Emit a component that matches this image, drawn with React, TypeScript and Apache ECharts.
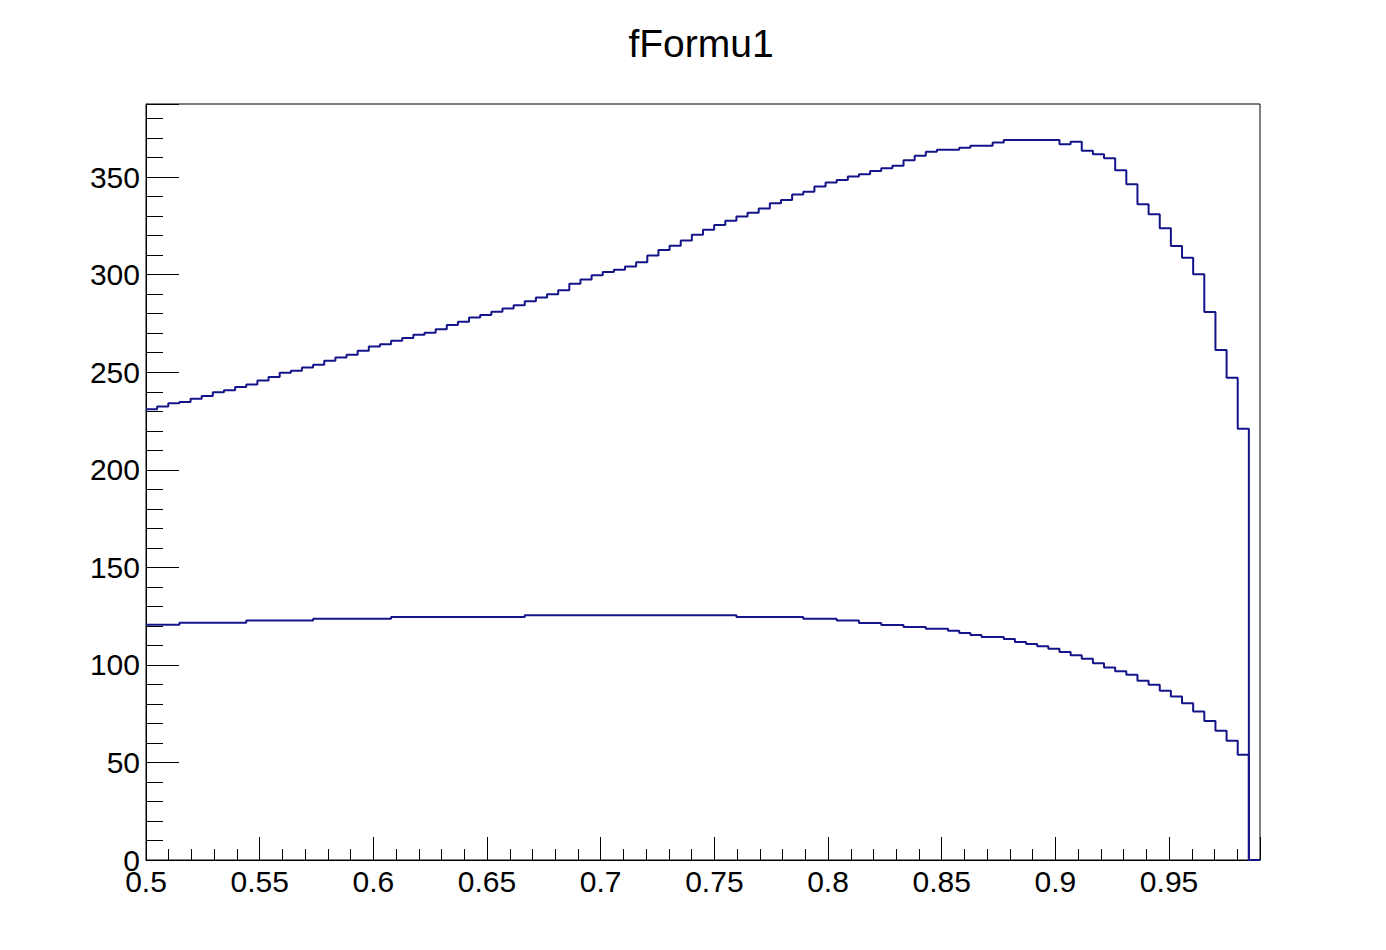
import React, { useEffect, useRef } from "react";
import * as echarts from "echarts";

const chartTitle = "fFormu1";
const binLow = 0.5;
const binWidth = 0.0049;
const xMin = 0.5;
const xMax = 0.99;
const yMin = 0;
const yMax = 387.5;
const xMajor = 0.05;
const xMinor = 0.01;
const yMajor = 50;
const yMinor = 10;

// bin contents (100 bins, 0.5 .. 0.99)
const upperCurve = [
  231.0, 232.4, 234.1, 234.7, 236.4, 237.8, 239.8, 240.8, 242.5, 243.7,
  245.8, 247.6, 249.7, 250.8, 252.5, 253.9, 255.9, 257.6, 259.0, 261.0,
  263.2, 264.4, 266.1, 267.5, 269.2, 270.3, 272.0, 274.2, 275.9, 278.1,
  279.3, 281.0, 282.7, 284.4, 286.4, 288.3, 290.0, 292.0, 295.4, 297.5,
  299.7, 301.4, 302.5, 304.2, 306.4, 309.8, 312.7, 314.9, 317.5, 320.5,
  323.0, 325.5, 327.6, 329.8, 331.8, 333.9, 336.6, 338.3, 341.1, 342.5,
  345.2, 347.3, 348.6, 350.4, 351.5, 353.2, 354.6, 355.8, 358.7, 361.0,
  363.0, 364.0, 364.0, 365.1, 366.1, 366.1, 367.8, 369.0, 369.0, 369.0,
  369.0, 369.0, 366.9, 368.1, 363.5, 361.8, 359.7, 353.6, 346.4, 336.1,
  331.0, 323.8, 314.7, 308.7, 300.2, 280.9, 261.4, 247.2, 221.0, 0,
];

const lowerCurve = [
  120.6, 120.6, 120.6, 121.6, 121.6, 121.6, 121.6, 121.6, 121.6, 122.7,
  122.7, 122.7, 122.7, 122.7, 122.7, 123.7, 123.7, 123.7, 123.7, 123.7,
  123.7, 123.7, 124.5, 124.5, 124.5, 124.5, 124.5, 124.5, 124.5, 124.5,
  124.5, 124.5, 124.5, 124.5, 125.4, 125.4, 125.4, 125.4, 125.4, 125.4,
  125.4, 125.4, 125.4, 125.4, 125.4, 125.4, 125.4, 125.4, 125.4, 125.4,
  125.4, 125.4, 125.4, 124.5, 124.5, 124.5, 124.5, 124.5, 124.5, 123.7,
  123.7, 123.7, 122.7, 122.7, 121.5, 121.5, 120.4, 120.4, 119.4, 119.4,
  118.5, 118.5, 117.5, 116.3, 115.3, 114.3, 114.3, 113.3, 111.7, 110.7,
  109.5, 108.3, 106.6, 104.9, 103.2, 100.9, 98.7, 96.7, 94.9, 91.9,
  89.8, 86.7, 83.8, 80.4, 76.1, 71.3, 66.2, 61.1, 53.9, 0,
];

const lineColor = "#14148a";
const fontFamily = "Liberation Sans";

function histPoints(vals: number[]) {
  const pts: number[][] = vals.map((v, i) => [+(binLow + i * binWidth).toFixed(6), v]);
  pts.push([+(binLow + vals.length * binWidth).toFixed(6), 0]);
  return pts;
}

function isMultiple(v: number, step: number) {
  const r = v / step;
  return Math.abs(r - Math.round(r)) < 1e-6;
}

export default function App() {
  const ref = useRef<HTMLDivElement>(null);
  useEffect(() => {
    if (!ref.current) return;
    const chart = echarts.init(ref.current, null, { renderer: "svg" });
    const tickLine = { color: "#000", width: 1 };
    chart.setOption({
      animation: false,
      backgroundColor: "#ffffff",
      graphic: [
        {
          type: "text",
          x: 701,
          y: 43,
          style: {
            text: chartTitle,
            fill: "#000",
            font: `normal 39px "${fontFamily}"`,
            align: "center",
            verticalAlign: "middle",
          },
        },
      ],
      grid: {
        left: 146,
        right: 126,
        top: 104,
        bottom: 90,
        show: true,
        borderColor: "#000",
        borderWidth: 1,
        backgroundColor: "#fff",
        containLabel: false,
      },
      xAxis: [
        {
          type: "value",
          min: xMin,
          max: xMax,
          interval: xMajor,
          position: "bottom",
          axisLine: { show: true, onZero: false, lineStyle: tickLine },
          axisTick: { show: true, inside: true, length: 23, lineStyle: tickLine },
          axisLabel: {
            color: "#000",
            fontSize: 30,
            fontFamily,
            margin: 6,
            formatter: (v: number) => (isMultiple(v, xMajor) ? String(+v.toFixed(2)) : ""),
          },
          splitLine: { show: false },
        },
        {
          type: "value",
          min: xMin,
          max: xMax,
          interval: xMinor,
          position: "bottom",
          axisLine: { show: false, onZero: false },
          axisTick: { show: true, inside: true, length: 11, lineStyle: tickLine },
          axisLabel: { show: false },
          splitLine: { show: false },
        },
      ],
      yAxis: [
        {
          type: "value",
          min: yMin,
          max: yMax,
          interval: yMajor,
          position: "left",
          axisLine: { show: true, onZero: false, lineStyle: tickLine },
          axisTick: { show: true, inside: true, length: 33, lineStyle: tickLine },
          axisLabel: {
            color: "#000",
            fontSize: 30,
            fontFamily,
            margin: 6,
            formatter: (v: number) => (isMultiple(v, yMajor) ? String(Math.round(v)) : ""),
          },
          splitLine: { show: false },
        },
        {
          type: "value",
          min: yMin,
          max: yMax,
          interval: yMinor,
          position: "left",
          axisLine: { show: false, onZero: false },
          axisTick: { show: true, inside: true, length: 17, lineStyle: tickLine },
          axisLabel: { show: false },
          splitLine: { show: false },
        },
      ],
      series: [
        {
          type: "line",
          xAxisIndex: 0,
          yAxisIndex: 0,
          step: "end",
          showSymbol: false,
          symbol: "none",
          data: histPoints(upperCurve),
          lineStyle: { color: lineColor, width: 2 },
          clip: true,
        },
        {
          type: "line",
          xAxisIndex: 0,
          yAxisIndex: 0,
          step: "end",
          showSymbol: false,
          symbol: "none",
          data: histPoints(lowerCurve),
          lineStyle: { color: lineColor, width: 2 },
          clip: true,
        },
      ],
    });
    return () => chart.dispose();
  }, []);
  return (
    <div
      ref={ref}
      style={{ position: "absolute", left: 0, top: 0, width: 1386, height: 950, background: "#fff" }}
    />
  );
}
